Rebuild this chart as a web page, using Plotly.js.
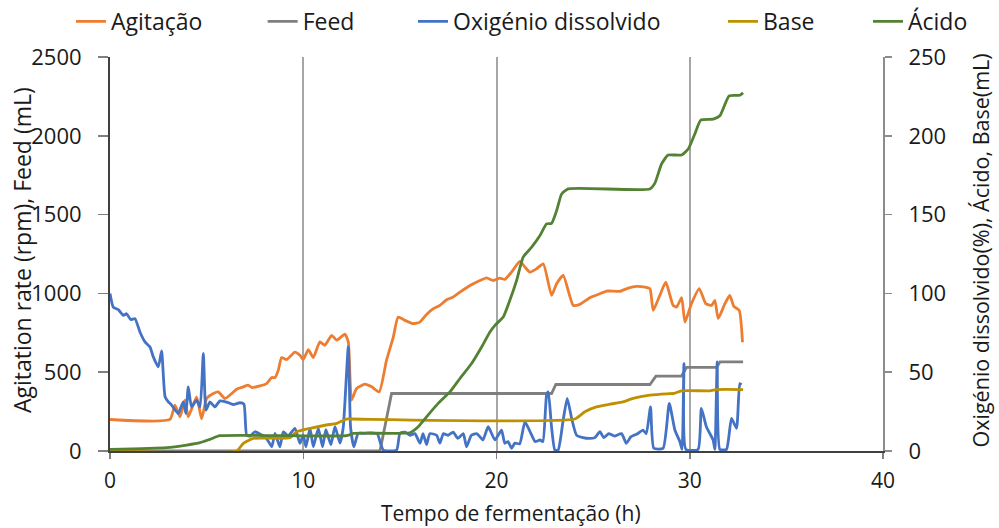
<!DOCTYPE html>
<html>
<head>
<meta charset="utf-8">
<script src="https://cdn.plot.ly/plotly-3.0.1.min.js"></script>
<style>
  html, body { margin: 0; padding: 0; background: #fff; }
  #chart { width: 999px; height: 528px; }
</style>
</head>
<body>
<div id="chart"></div>
<script>
// Fermentation run: agitation and feed on the left axis, dissolved oxygen, acid and base on the right axis.

// Agitação (rpm)
const agitT = [0, 3.1, 3.36, 3.62, 3.88, 4.05, 4.48, 4.74, 5.0, 5.35, 5.6, 5.95, 6.3, 6.55, 6.9, 7.15, 7.33, 7.76, 8.1, 8.37, 8.54, 8.71, 8.88, 9.14, 9.57, 9.83, 10.0, 10.26, 10.52, 10.86, 11.12, 11.47, 11.73, 12.16, 12.33, 12.5, 12.76, 13.19, 13.54, 13.93, 14.31, 14.66, 14.91, 15.26, 15.69, 16.04, 16.38, 16.73, 17.07, 17.42, 17.76, 18.11, 18.45, 18.8, 19.14, 19.49, 19.83, 20.17, 20.43, 20.78, 21.21, 21.47, 21.73, 22.07, 22.42, 22.85, 23.11, 23.45, 23.97, 24.31, 24.83, 25.35, 25.7, 26.38, 26.81, 27.25, 27.68, 27.94, 28.11, 28.45, 28.76, 29.14, 29.32, 29.58, 29.75, 30.09, 30.49, 30.83, 31.13, 31.3, 31.47, 31.82, 32.07, 32.28, 32.56, 32.73];
const agitV = [200, 200, 291, 217, 323, 217, 344, 205, 333, 365, 375, 333, 365, 392, 407, 418, 403, 413, 428, 466, 466, 513, 593, 580, 628, 607, 580, 643, 593, 692, 671, 734, 703, 741, 692, 323, 397, 424, 407, 375, 576, 723, 850, 829, 808, 818, 866, 903, 924, 960, 977, 1008, 1036, 1061, 1082, 1099, 1082, 1097, 1089, 1135, 1203, 1167, 1135, 1156, 1188, 987, 1061, 1114, 924, 930, 973, 998, 1015, 1013, 1034, 1045, 1040, 1030, 892, 987, 1071, 924, 913, 973, 818, 935, 1030, 935, 924, 956, 840, 935, 987, 918, 892, 690];

// Feed (mL)
const feedT = [0, 13.97, 14.57, 22.85, 23.07, 27.94, 28.25, 29.57, 29.83, 31.39, 31.56, 32.76];
const feedV = [0, 0, 365, 365, 422, 422, 475, 475, 530, 530, 565, 565];

// Oxigénio dissolvido (%)
const oxyT = [0, 0.17, 0.43, 0.69, 0.86, 1.07, 1.29, 1.55, 1.81, 2.07, 2.24, 2.5, 2.67, 2.85, 3.02, 3.19, 3.53, 3.79, 3.93, 4.05, 4.22, 4.48, 4.66, 4.83, 4.97, 5.17, 5.43, 5.69, 6.04, 6.38, 6.72, 6.93, 7.07, 7.25, 7.5, 8.1, 8.37, 8.54, 8.79, 8.97, 9.22, 9.57, 9.83, 10.0, 10.14, 10.35, 10.52, 10.78, 11.0, 11.17, 11.43, 11.64, 11.9, 12.07, 12.33, 12.45, 12.62, 12.84, 13.1, 13.5, 13.83, 14.0, 14.14, 14.83, 15.0, 15.26, 15.52, 15.78, 16.04, 16.2, 16.38, 16.55, 16.9, 17.07, 17.25, 17.5, 17.76, 18.0, 18.28, 18.45, 18.7, 18.97, 19.14, 19.3, 19.57, 19.92, 20.26, 20.43, 20.6, 20.78, 20.95, 21.2, 21.47, 21.73, 22.0, 22.25, 22.4, 22.59, 22.68, 22.85, 23.02, 23.19, 23.45, 23.66, 23.9, 24.14, 24.48, 24.8, 25.09, 25.35, 25.55, 25.8, 26.1, 26.47, 26.72, 26.95, 27.3, 27.58, 27.75, 27.97, 28.14, 28.62, 28.94, 29.23, 29.49, 29.6, 29.7, 29.8, 30.43, 30.6, 30.86, 31.21, 31.3, 31.42, 31.56, 31.9, 32.16, 32.42, 32.59, 32.68];
const oxyV = [100, 91.3, 89.7, 86.1, 87.1, 83.4, 84.0, 75.5, 69.2, 66.0, 59.7, 53.4, 63.5, 34.4, 31.2, 29.1, 23.8, 31.2, 23.8, 40.7, 28.0, 32.3, 28.0, 62.0, 25.9, 31.2, 28.0, 31.8, 31.0, 29.5, 30.6, 29.7, 10.1, 9.5, 12.2, 8.0, 2.7, 11.2, 2.7, 12.2, 9.6, 14.4, 4.9, 10.0, 2.7, 14.4, 2.7, 14.4, 2.7, 13.5, 4.0, 15.4, 5.0, 15.0, 66.0, 15.0, 2.7, 11.2, 11.2, 11.5, 11.0, 4.9, 0.6, 0.6, 11.2, 12.0, 10.0, 11.0, 4.9, 11.0, 4.0, 11.0, 10.0, 5.0, 11.0, 10.0, 12.0, 8.0, 11.0, 2.7, 10.0, 11.0, 9.1, 7.0, 15.4, 7.0, 13.3, 4.9, 6.0, 1.7, 5.0, 4.5, 18.5, 12.5, 6.0, 7.0, 6.0, 35.4, 37.5, 15.0, 0.6, 0.6, 19.6, 33.4, 20.0, 10.1, 8.5, 8.0, 8.5, 12.2, 8.5, 11.0, 9.5, 11.0, 4.9, 9.0, 11.0, 13.3, 11.0, 28.0, 1.7, 1.7, 30.2, 13.3, 5.9, 1.0, 55.5, 1.0, 1.0, 27.0, 15.4, 7.0, 1.0, 56.5, 1.0, 1.0, 20.7, 14.4, 42.8, 42.0];

// Base (mL)
const baseT = [0, 6.55, 6.9, 7.41, 9.31, 9.66, 10.35, 11.2, 11.73, 12.24, 12.5, 24.05, 24.57, 25.17, 25.87, 26.55, 27.07, 27.94, 28.8, 29.2, 29.57, 31.04, 31.39, 32.76];
const baseV = [0, 0, 4.9, 8.0, 8.4, 12.2, 14.4, 16.5, 17.5, 20.3, 20.3, 20.3, 24.9, 28.0, 29.7, 31.2, 33.4, 35.4, 36.3, 36.5, 38.2, 38.2, 39.0, 39.0];

// Ácido (mL)
const acidT = [0, 2.93, 3.97, 4.66, 5.17, 5.69, 12.24, 12.6, 15.52, 15.95, 16.38, 16.98, 17.59, 18.11, 18.71, 19.23, 19.66, 19.92, 20.35, 20.69, 21.04, 21.38, 21.82, 22.25, 22.59, 22.85, 23.11, 23.37, 23.71, 27.94, 28.19, 28.54, 28.88, 29.57, 29.92, 30.26, 30.57, 31.21, 31.56, 32.04, 32.59, 32.76];
const acidV = [1.0, 2.1, 3.8, 5.3, 7.4, 9.7, 9.7, 11.2, 11.6, 15.4, 21.7, 30.2, 37.5, 46.0, 55.5, 66.0, 75.5, 79.7, 85.0, 95.6, 108.2, 123.0, 129.3, 136.7, 144.1, 144.5, 152.5, 163.1, 166.3, 166.3, 169.8, 182.1, 187.8, 187.8, 191.6, 201.1, 210.0, 210.6, 212.7, 225.3, 225.7, 227.2];

const xTicks = [0, 10, 20, 30, 40];
const yTicksLeft = [0, 500, 1000, 1500, 2000, 2500];
const yTicksRight = [0, 50, 100, 150, 200, 250];

const xTitle = 'Tempo de fermentação (h)';
const yTitleLeft = 'Agitation rate (rpm), Feed (mL)';
const yTitleRight = 'Oxigénio dissolvido(%), Ácido, Base(mL)';

const FONT = '"Open Sans", sans-serif';
const TXT = '#1a1a1a';
const W = 2.8;

// Each series gets its own one-entry legend so the entries can sit at their own spots along the top.
const legendX = [-0.0505, 0.1975, 0.392, 0.793, 0.9806];
const legendIds = ['legend', 'legend2', 'legend3', 'legend4', 'legend5'];

function series(i, name, x, y, color, axis, shape) {
  return {
    type: 'scatter', mode: 'lines', name: name, x: x, y: y, yaxis: axis,
    legend: legendIds[i],
    line: { color: color, width: W, shape: shape || 'spline', smoothing: 0.5 },
    hoverinfo: 'x+y+name'
  };
}

const traces = [
  series(0, 'Agitação', agitT, agitV, '#ED7D31', 'y'),
  series(1, 'Feed', feedT, feedV, '#7F7F7F', 'y', 'linear'),
  series(2, 'Oxigénio dissolvido', oxyT, oxyV, '#4472C4', 'y2'),
  series(3, 'Base', baseT, baseV, '#BF9000', 'y2'),
  series(4, 'Ácido', acidT, acidV, '#548235', 'y2')
];

const axisCommon = {
  showline: true, linewidth: 2, zeroline: false, layer: 'below traces',
  ticks: 'outside', tickwidth: 1.5,
  tickfont: { family: FONT, size: 22, color: TXT }
};

const layout = {
  width: 999, height: 528,
  margin: { l: 110, r: 116, t: 57, b: 77, autoexpand: false },
  paper_bgcolor: '#fff', plot_bgcolor: '#fff',
  font: { family: FONT, size: 22, color: TXT },
  showlegend: true,
  xaxis: Object.assign({}, axisCommon, {
    range: [0, 40], tickvals: xTicks, ticktext: xTicks.map(String),
    showgrid: true, gridcolor: '#a6a6a6', gridwidth: 2,
    linecolor: '#404040', ticklen: 6, tickcolor: '#808080',
    ticklabelstandoff: 4,
    tickfont: { family: FONT, size: 21, color: TXT }
  }),
  yaxis: Object.assign({}, axisCommon, {
    range: [0, 2500], tickvals: yTicksLeft, ticktext: yTicksLeft.map(String),
    showgrid: false, linecolor: '#404040', ticklen: 10, tickcolor: '#808080',
    ticklabelstandoff: 12
  }),
  yaxis2: Object.assign({}, axisCommon, {
    range: [0, 250], tickvals: yTicksRight, ticktext: yTicksRight.map(String),
    overlaying: 'y', side: 'right', anchor: 'x',
    showgrid: false, linecolor: '#8c8c8c', ticklen: 7, tickcolor: '#8c8c8c',
    ticklabelstandoff: 12
  }),
  annotations: [
    { text: xTitle, xref: 'paper', yref: 'paper', x: 0.5188, y: -0.157,
      xanchor: 'center', yanchor: 'middle', showarrow: false, borderpad: 0,
      font: { family: FONT, size: 21, color: TXT } },
    { text: yTitleLeft, xref: 'paper', yref: 'paper', x: -0.1138, y: 0.51,
      xanchor: 'center', yanchor: 'middle', textangle: -90, showarrow: false,
      font: { family: FONT, size: 23, color: TXT } },
    { text: yTitleRight, xref: 'paper', yref: 'paper', x: 1.126, y: 0.51,
      xanchor: 'center', yanchor: 'middle', textangle: -90, showarrow: false,
      font: { family: FONT, size: 21.5, color: TXT } }
  ]
};

legendIds.forEach(function (id, i) {
  layout[id] = {
    orientation: 'h', x: legendX[i], xanchor: 'left', y: 1.145, yanchor: 'top',
    font: { family: FONT, size: 23, color: TXT },
    bgcolor: 'rgba(0,0,0,0)', borderwidth: 0
  };
});

Plotly.newPlot('chart', traces, layout, { displayModeBar: false, staticPlot: true });
</script>
</body>
</html>
